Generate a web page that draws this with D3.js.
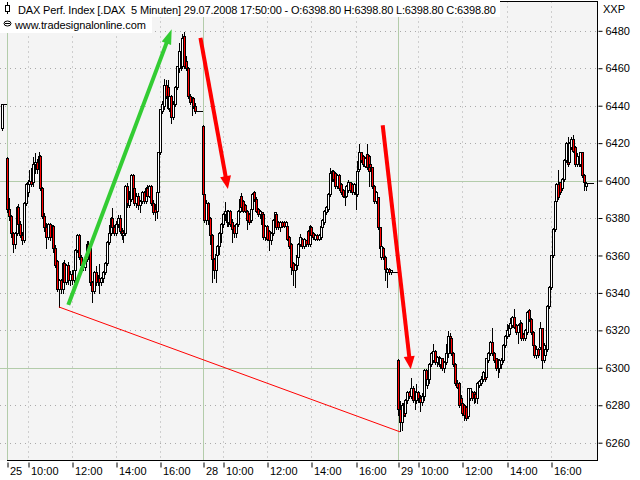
<!DOCTYPE html>
<html><head><meta charset="utf-8">
<script src="https://cdn.jsdelivr.net/npm/d3@7"></script>
<style>
body{margin:0;background:#fff;}
svg{display:block;font-family:"Liberation Sans",Arial,sans-serif;}
</style></head><body>
<svg id="c" width="640" height="480"></svg>
<script>
// ---- data: [open, high, low, close] per 5-minute bar ----
const day24Tail = [[6428,6441,6427,6441],[6441,6441,6441,6441],[6441,6441,6441,6441]];
const day25 = [
[6412,6413,6383,6385],[6385,6391,6379,6381],[6381,6382,6370,6372],[6372,6373,6362,6366],[6366,6373,6364,6372],
[6372,6387,6371,6386],[6386,6388,6375,6377],[6377,6379,6370,6371],[6371,6373,6366,6368],[6368,6389,6367,6388],
[6388,6399,6387,6398],[6394,6401,6392,6399],[6398,6406,6396,6400],[6400,6407,6397,6398],[6399,6413,6397,6409],
[6409,6415,6404,6410],[6410,6412,6404,6406],[6406,6416,6405,6413],[6413,6414,6395,6396],[6396,6397,6380,6381],
[6381,6383,6373,6375],[6375,6378,6364,6370],[6370,6378,6369,6377],[6377,6378,6368,6370],[6370,6377,6368,6376],
[6376,6377,6362,6364],[6364,6366,6354,6355],[6357,6358,6341,6342],[6342,6348,6332.5,6347],[6347,6348,6340,6342],
[6342,6357,6340,6356],[6356,6358,6345,6346],[6346,6356,6345,6355],[6355,6357,6345,6347],[6347,6352,6344,6350],
[6350,6353,6345,6347],[6347,6353,6346,6352],[6352,6364,6350,6363],[6363,6372,6362,6371],[6371,6372,6358,6359],
[6359,6361,6353,6355],[6355,6358,6352,6354],[6354,6360,6352,6358],[6358,6368,6357,6366],[6366,6368,6362,6364],
[6364,6365,6344,6346],[6346,6347,6335,6341],[6341,6352,6340,6351],[6351,6355,6344,6346],[6346,6350,6344,6348],
[6348,6356,6340,6346],[6346,6349,6344,6348],[6348,6352,6346,6351],[6351,6357,6350,6356],[6356,6368,6355,6367],
[6367,6377,6366,6372],[6372,6381,6371,6380],[6380,6386,6374,6375],[6375,6377,6371,6372],[6372,6379,6371,6377],
[6377,6382,6375,6380],[6380,6382,6372,6373],[6373,6375,6369,6371],[6371,6374,6367,6372],[6372,6398,6371,6397],
[6397,6399,6386,6388],[6387,6395,6386,6390],[6390,6404,6389,6403],[6403,6404,6394,6396],[6396,6397,6387,6388],
[6388,6394,6386,6392],[6392,6394,6385,6387],[6387,6390,6383,6389],[6389,6395,6388,6394],[6394,6395,6388,6389],
[6389,6397,6388,6396],[6396,6398,6390,6392],[6392,6398,6391,6397],[6397,6398,6387,6388],[6388,6390,6382,6383],
[6385,6388,6379,6383],[6384,6395,6380,6394],[6394,6416,6393,6415],[6415,6439,6414,6438],[6437,6443,6436,6441],
[6440,6455,6438,6451],[6451,6454,6444,6445],[6450,6454,6438,6439],[6439,6446,6437,6445],[6445,6446,6431,6434],
[6434,6443,6433,6441],[6441,6451,6440,6450],[6450,6462,6449,6461],[6460,6474,6458,6469],[6469,6474,6459,6461],
[6461,6479,6460,6476],[6477,6480,6460,6461],[6464,6467,6459,6460],[6460,6461,6444,6445],[6445,6447,6441,6442],
[6442,6445,6435,6444],[6444,6445,6439,6440],[6440,6442,6436,6437],[6437,6437,6437,6437],[6437,6437,6437,6437],
[6437,6437,6437,6437]];
const day28 = [
[6429,6430,6392,6393],[6393,6394,6378,6379],[6379,6390,6377,6388],[6388,6389,6377,6379],[6380,6381,6366,6371],
[6371,6372,6346,6358],[6358,6359,6348,6352],[6352,6362,6346,6361],[6360,6366,6356,6365],[6365,6373,6361,6372],
[6372,6378,6367,6377],[6377,6383,6375,6382],[6382,6389,6379,6384],[6384,6385,6376,6378],[6378,6385,6376,6384],
[6384,6385,6376,6377],[6378,6380,6367,6374],[6376,6377,6370,6372],[6372,6378,6370,6377],[6377,6385,6376,6384],
[6384,6391,6383,6390],[6392,6394,6384,6386],[6389,6390,6383,6384],[6387,6388,6383,6384],[6384,6385,6374,6379],
[6382,6383,6377,6378],[6379,6386,6378,6385],[6385,6394,6384,6393],[6394,6395,6389,6390],[6390,6392,6383,6384],
[6385,6386,6381,6382],[6382,6385,6380,6384],[6383,6384,6376,6377],[6382,6383,6369,6370],[6370,6377,6368,6376],
[6376,6377,6368,6369],[6373,6374,6363,6368],[6368,6373,6366,6372],[6372,6380,6371,6379],[6379,6384,6375,6383],
[6382,6383,6374,6375],[6378,6379,6374,6375],[6375,6379,6373,6378],[6378,6379,6375,6376],[6378,6379,6375,6376],
[6376,6379,6375,6378],[6376,6377,6368,6369],[6370,6371,6364,6365],[6366,6367,6350,6354],[6356,6357,6344,6352],
[6352,6356,6343,6355],[6355,6362,6353,6360],[6359,6367,6358,6366],[6366,6372,6365,6370],[6369,6370,6364,6365],
[6365,6370,6364,6369],[6368,6369,6365,6366],[6373,6374,6365,6366],[6366,6377,6365,6376],[6375,6376,6370,6371],
[6372,6373,6369,6370],[6369,6372,6368,6371],[6371,6372,6368,6369],[6369,6372,6368,6371],[6370,6377,6369,6376],
[6375,6380,6374,6379],[6378,6385,6377,6384],[6383,6387,6382,6386],[6385,6394,6384,6393],[6393,6407,6392,6404],
[6401,6406,6400,6405],[6405,6406,6400,6401],[6404,6405,6396,6397],[6397,6404,6396,6403],[6403,6404,6395,6396],
[6398,6399,6393,6394],[6395,6396,6391,6392],[6394,6395,6387,6391],[6392,6398,6391,6397],[6395,6401,6394,6399],
[6399,6400,6394,6395],[6398,6399,6393,6394],[6394,6399,6393,6398],[6398,6399,6385,6393],[6393,6411,6392,6405],
[6406,6420,6405,6415],[6415,6416,6410,6411],[6413,6414,6408,6409],[6408,6413,6407,6412],[6414,6420,6406,6407],
[6413,6414,6397,6405],[6409,6410,6406,6407],[6407,6408,6396,6397],[6397,6398,6388,6389],[6389,6395,6388,6394],
[6391,6392,6374,6375],[6375,6376,6363,6364],[6359,6366,6358,6365],[6364,6365,6358,6359],[6359,6360,6347,6353],
[6351,6354,6343,6353],[6353,6354,6350,6351],[6351,6353,6350,6352],[6351,6351,6351,6351],[6351,6351,6351,6351],
[6351,6351,6351,6351]];
const day29 = [
[6304,6305,6275,6278],[6278,6283,6266,6271],[6271,6282,6267,6280],[6281,6283,6274,6275],[6276,6284,6274,6283],
[6283,6288,6281,6287],[6287,6288,6284,6285],[6285,6295,6284,6289],[6289,6291,6282,6283],[6286,6288,6278,6283],
[6283,6292,6281,6287],[6287,6288,6282,6284],[6284,6286,6277,6282],[6282,6287,6280,6285],[6285,6300,6283,6299],
[6299,6300,6293,6294],[6291,6296,6289,6294],[6294,6303,6292,6302],[6302,6309,6301,6308],[6304,6313,6303,6309],
[6309,6310,6302,6303],[6303,6307,6301,6306],[6306,6307,6301,6302],[6302,6306,6300,6305],[6305,6306,6299,6300],
[6300,6304,6298,6303],[6303,6313,6302,6308],[6308,6320,6306,6317],[6317,6319,6314,6315],[6316,6317,6307,6308],
[6308,6309,6301,6302],[6302,6303,6291,6292],[6292,6294,6289,6290],[6292,6293,6279,6280],[6284,6286,6278,6280],
[6281,6282,6275,6276],[6280,6281,6272,6275],[6279,6280,6272,6273],[6274,6290,6273,6289],[6284,6290,6283,6289],
[6287,6288,6283,6284],[6287,6288,6281,6284],[6286,6287,6282,6284],[6284,6293,6281,6292],[6291,6294,6290,6293],
[6292,6296,6291,6294],[6294,6299,6293,6298],[6298,6299,6293,6294],[6295,6306,6294,6305],[6304,6309,6303,6308],
[6308,6315,6307,6314],[6314,6322,6307,6308],[6308,6309,6303,6304],[6305,6306,6299,6300],[6304,6305,6295,6300],
[6300,6305,6298,6304],[6302,6306,6300,6304],[6304,6313,6303,6312],[6312,6318,6311,6317],[6317,6324,6316,6320],
[6318,6324,6317,6323],[6321,6327,6320,6324],[6323,6328,6322,6327],[6327,6332,6321,6322],[6323,6324,6318,6319],
[6319,6324,6313,6323],[6321,6326,6320,6324],[6324,6325,6315,6316],[6318,6319,6315,6316],[6316,6321,6315,6320],
[6319,6331,6318,6330],[6331,6332,6325,6326],[6326,6327,6318,6319],[6319,6320,6311,6312],[6312,6313,6306,6307],
[6307,6312,6305,6310],[6310,6311,6306,6307],[6311,6325,6310,6321],[6321,6322,6300,6304],[6304,6314,6303,6312],
[6307,6312,6306,6310],[6310,6334,6309,6333],[6333,6344,6332,6343],[6343,6361,6342,6360],[6360,6375,6359,6374],
[6374,6390,6373,6389],[6389,6399,6388,6398],[6398,6406,6390,6391],[6399,6400,6393,6394],[6396,6402,6395,6401],
[6401,6412,6400,6411],[6411,6421,6410,6420],[6420,6424,6408,6409],[6410,6421,6409,6420],[6418,6424,6417,6422],
[6422,6425,6415,6416],[6418,6419,6408,6409],[6409,6415,6408,6413],[6413,6414,6408,6409],[6409,6416,6408,6415],
[6415,6416,6402,6403],[6403,6404,6395,6399],[6397,6400,6395,6398.8],[6398.8,6398.8,6398.8,6398.8],[6398.8,6398.8,6398.8,6398.8],
[6398.8,6398.8,6398.8,6398.8]];

const dayStartBar = [0, 106, 212];           // first bar index of 25, 28, 29 July
const xTickBars   = [0, 11, 35, 59, 83, 106, 117, 141, 165, 189, 212, 223, 247, 271, 295];
const xTickLabels = ['25','10:00','12:00','14:00','16:00','28','10:00','12:00','14:00','16:00','29','10:00','12:00','14:00','16:00'];
const yTicks = [6260,6280,6300,6320,6340,6360,6380,6400,6420,6440,6460,6480];
const yMajor = [6300, 6400];

// annotations: [barIndex, price]
const greenArrow = [[33.1, 6333.6], [89.2, 6480.8]];
const redArrow1  = [[104.8, 6476.2], [119.7, 6395.5]];
const redArrow2  = [[203.7, 6429.6], [218.9, 6299.2]];
const lowLine    = [[28, 6332.5], [213.1, 6265.8]];

const title = "DAX Perf. Index [.DAX  5 Minuten] 29.07.2008 17:50:00 - O:6398.80 H:6398.80 L:6398.80 C:6398.80";
const subtitle = "www.tradesignalonline.com";

// ---- build ----
const bars = [];
day24Tail.forEach((d,i)=>bars.push({i: i - day24Tail.length, o:d[0],h:d[1],l:d[2],c:d[3]}));
[day25, day28, day29].forEach((day,k)=>day.forEach((d,i)=>bars.push({i: dayStartBar[k]+i, o:d[0],h:d[1],l:d[2],c:d[3]})));

const P = {left:0, right:597.5, top:1.5, bottom:460.5};
const x = d3.scaleLinear().domain([0, 317]).range([7.3, 591.5]);
const y = d3.scaleLinear().domain([6260, 6480]).range([442.7, 30.8]);

const svg = d3.select('#c');
svg.append('rect').attr('x',0).attr('y',0).attr('width',640).attr('height',480).attr('fill','#fff');
svg.append('defs').append('clipPath').attr('id','plot').append('rect')
  .attr('x',P.left).attr('y',P.top).attr('width',P.right-P.left).attr('height',P.bottom-P.top);
svg.append('rect').attr('x',P.left).attr('y',P.top).attr('width',P.right-P.left).attr('height',P.bottom-P.top).attr('fill','#f4f4f4');

const g = svg.append('g').attr('clip-path','url(#plot)');
const px = v => Math.round(x(v));
const py = v => Math.round(y(v)) + 0.5;

// dotted grid
g.selectAll('.hg').data(yTicks.filter(t=>!yMajor.includes(t))).join('line')
  .attr('x1',P.left).attr('x2',P.right).attr('y1',d=>py(d)).attr('y2',d=>py(d))
  .attr('stroke','#a9a9a9').attr('stroke-dasharray','1,4');
const intraday = xTickBars.filter(b=>!dayStartBar.includes(b));
g.selectAll('.vg').data(intraday).join('line')
  .attr('x1',d=>px(d)+0.5).attr('x2',d=>px(d)+0.5).attr('y1',P.top).attr('y2',P.bottom)
  .attr('stroke','#a9a9a9').attr('stroke-dasharray','1,4');
// major lines
g.selectAll('.hm').data(yMajor).join('line')
  .attr('x1',P.left).attr('x2',P.right).attr('y1',d=>py(d)).attr('y2',d=>py(d))
  .attr('stroke','#b3ccaa');
g.selectAll('.vm').data(dayStartBar).join('line')
  .attr('x1',d=>px(d)+0.5).attr('x2',d=>px(d)+0.5).attr('y1',P.top).attr('y2',P.bottom)
  .attr('stroke','#b3ccaa');

// candles
const cg = g.append('g').attr('shape-rendering','crispEdges');
bars.forEach(d=>{
  const cx = px(d.i);
  const yh = py(d.h), yl = py(d.l);
  if (d.h !== d.l) cg.append('line').attr('x1',cx+0.5).attr('x2',cx+0.5).attr('y1',yh).attr('y2',yl).attr('stroke','#000');
  const yt = py(Math.max(d.o,d.c)), yb = py(Math.min(d.o,d.c));
  if (yb - yt < 1) {
    cg.append('line').attr('x1',cx-1).attr('x2',cx+2).attr('y1',yt).attr('y2',yt).attr('stroke','#000');
  } else {
    cg.append('rect').attr('x',cx-0.5).attr('y',yt).attr('width',2).attr('height',yb-yt)
      .attr('fill', d.c < d.o ? '#ff0000' : '#ffffff').attr('stroke','#000');
  }
});

// annotations
function arrow(pts, color, w, headLen, headW){
  const x1=x(pts[0][0]), y1=y(pts[0][1]), x2=x(pts[1][0]), y2=y(pts[1][1]);
  const a = Math.atan2(y2-y1, x2-x1);
  const bx = x2 - headLen*Math.cos(a), by = y2 - headLen*Math.sin(a);
  g.append('line').attr('x1',x1).attr('y1',y1).attr('x2',bx+Math.cos(a)).attr('y2',by+Math.sin(a))
    .attr('stroke',color).attr('stroke-width',w);
  const nx = -Math.sin(a)*headW/2, ny = Math.cos(a)*headW/2;
  g.append('path').attr('d',`M${x2},${y2}L${bx+nx},${by+ny}L${bx-nx},${by-ny}Z`).attr('fill',color);
}
g.append('line').attr('x1',x(lowLine[0][0])).attr('y1',y(lowLine[0][1]))
  .attr('x2',x(lowLine[1][0])).attr('y2',y(lowLine[1][1])).attr('stroke','#ff0000').attr('stroke-width',1);
arrow(greenArrow, '#33cc33', 4, 15, 10);
arrow(redArrow1, '#ff0000', 4, 13, 11);
arrow(redArrow2, '#ff0000', 4, 13, 11);

// frame
svg.append('path').attr('d',`M${P.left},${P.top}H${P.right}V${P.bottom}H6.5`)
  .attr('fill','none').attr('stroke','#000').attr('shape-rendering','crispEdges');

// y axis
const ya = svg.append('g').attr('transform',`translate(${P.right+1},0)`)
  .call(d3.axisRight(y).tickValues(yTicks).tickSize(4).tickPadding(3).tickFormat(d3.format('d')));
ya.select('.domain').remove();
ya.selectAll('text').attr('font-size',11).attr('font-family','"Liberation Sans",Arial,sans-serif').attr('fill','#000');
ya.selectAll('line').attr('stroke','#000');

// x axis
const xa = svg.append('g').attr('transform',`translate(0.5,${P.bottom+2})`)
  .call(d3.axisBottom(x).tickValues(xTickBars).tickSize(5).tickFormat((d,i)=>xTickLabels[i]));
xa.select('.domain').remove();
xa.selectAll('.tick').attr('transform',d=>`translate(${px(d)+0.5},0)`);
xa.selectAll('text').attr('font-size',11).attr('font-family','"Liberation Sans",Arial,sans-serif').attr('fill','#000')
  .attr('text-anchor','start').attr('x',2).attr('y',5);
xa.selectAll('line').attr('stroke','#000');

// header
svg.append('rect').attr('x',0).attr('y',0).attr('width',500).attr('height',17).attr('fill','#fff');
svg.append('rect').attr('x',0).attr('y',17).attr('width',152).attr('height',16).attr('fill','#fff');
svg.append('text').attr('x',18).attr('y',14).attr('font-size',11).attr('letter-spacing',-0.16)
  .style('white-space','pre').text(title);
svg.append('text').attr('x',15).attr('y',29).attr('font-size',11).attr('letter-spacing',-0.1).text(subtitle);
// small icons
svg.append('line').attr('x1',7.5).attr('x2',7.5).attr('y1',2).attr('y2',14).attr('stroke','#000');
svg.append('rect').attr('x',5.5).attr('y',5.5).attr('width',4).attr('height',6).attr('fill','#fff').attr('stroke','#000');
svg.append('ellipse').attr('cx',7.5).attr('cy',23.5).attr('rx',3.5).attr('ry',2.5).attr('fill','none').attr('stroke','#000');
svg.append('line').attr('x1',5).attr('x2',10).attr('y1',23.5).attr('y2',23.5).attr('stroke','#000');
svg.append('text').attr('x',603).attr('y',13).attr('font-size',11).text('XXP');
</script>
</body></html>
